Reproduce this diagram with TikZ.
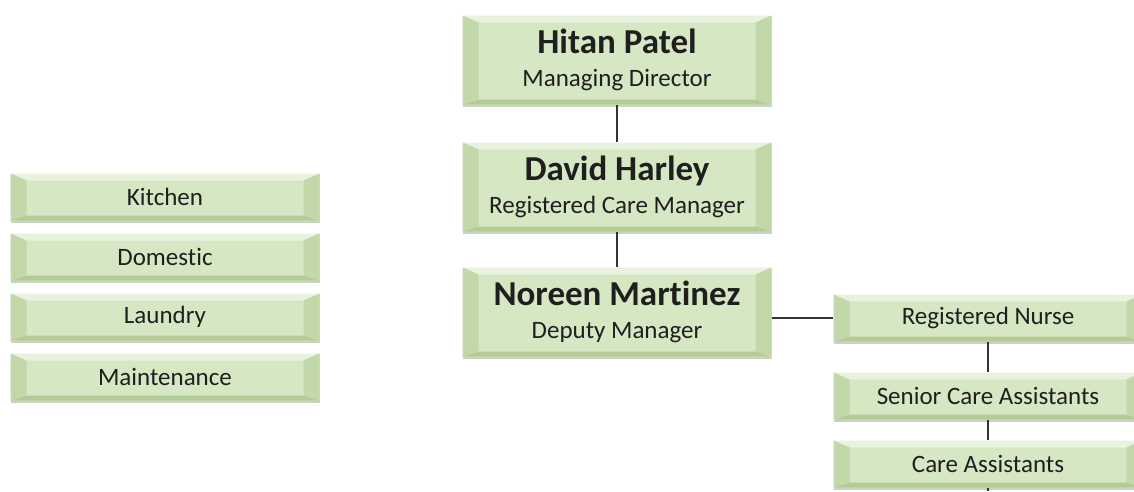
\documentclass[tikz,border=0pt]{standalone}
\usepackage{fontspec}
\setmainfont[Ligatures={NoCommon}]{Carlito}
\usetikzlibrary{positioning,calc}
\definecolor{boxmid}{HTML}{D6E7C3}
\definecolor{boxtop}{HTML}{E8F2DC}
\definecolor{boxside}{HTML}{C2D8A9}
\definecolor{boxlow}{HTML}{B3CC97}
\definecolor{boxshade}{HTML}{CDD0CA}
\definecolor{linegray}{HTML}{333333}

\tikzset{
  bevelbox/.style={fill=boxmid, inner sep=0pt, align=center, text=black!88,
    minimum width=309pt, minimum height=#1,
    preaction={fill=boxshade, transform canvas={yshift=-2.5pt}},
    path picture={
      \coordinate (nw) at (path picture bounding box.north west);
      \coordinate (se) at (path picture bounding box.south east);
      \coordinate (ne) at (nw -| se);
      \coordinate (sw) at (se -| nw);
      % top, bottom, sides of the bevel
      \fill[boxtop] (nw) -- (ne) -- ($(ne)+(-16pt,-7pt)$) -- ($(nw)+(16pt,-7pt)$) -- cycle;
      \fill[boxlow] (sw) -- (se) -- ($(se)+(-16pt,5pt)$) -- ($(sw)+(16pt,5pt)$) -- cycle;
      \fill[boxside] (nw) -- ($(nw)+(16pt,-7pt)$) -- ($(sw)+(16pt,5pt)$) -- (sw) -- cycle;
      \fill[boxside] (ne) -- ($(ne)+(-16pt,-7pt)$) -- ($(se)+(-16pt,5pt)$) -- (se) -- cycle;
    }},
  headbox/.style={bevelbox=89pt, font=\fontsize{25}{33}\selectfont},
  listbox/.style={bevelbox=47pt, font=\fontsize{25}{30}\selectfont},
  link/.style={draw=linegray, line width=1.1pt},
}
\newcommand{\who}[2]{{\fontsize{35}{33}\selectfont\bfseries #1}\\#2}

\begin{document}
\begin{tikzpicture}[x=1pt,y=-1pt]
  \clip (0,0) rectangle (1134,491);
  \useasboundingbox (0,0) rectangle (1134,491);
  \fill[white] (0,0) rectangle (1134,491);

  % management line
  \node[headbox] (md)  at (617,60)  {\who{Hitan Patel}{Managing Director}};
  \node[headbox] (rcm) at (617,187) {\who{David Harley}{Registered Care Manager}};
  \node[headbox] (dm)  at (617,312) {\who{Noreen Martinez}{Deputy Manager}};

  % support staff
  \foreach \i/\nm/\lbl in {0/kitchen/Kitchen, 1/domestic/Domestic, 2/laundry/Laundry, 3/maint/Maintenance} {
    \node[listbox] (\nm) at (165,{197+\i*60}) {\lbl};
  }

  % care staff
  \node[listbox] (rn)  at (988,318) {Registered Nurse};
  \node[listbox] (sca) at (988,396) {Senior Care Assistants};
  \node[listbox] (ca)  at (988,464) {Care Assistants};
  \coordinate (cut) at (988,491);

  % links
  \draw[link] (md) -- (rcm);
  \draw[link] (rcm) -- (dm);
  \draw[link] ($(kitchen.east)+(0,-2)$) -- ($(kitchen.east)+(0,-2)$ -| rcm.west);
  \draw[link] (rn.west) -- (rn.west -| dm.east);
  \draw[link] (rn) -- (sca);
  \draw[link] (sca) -- (ca);
  \draw[link] (ca.south) -- (cut);
\end{tikzpicture}
\end{document}
